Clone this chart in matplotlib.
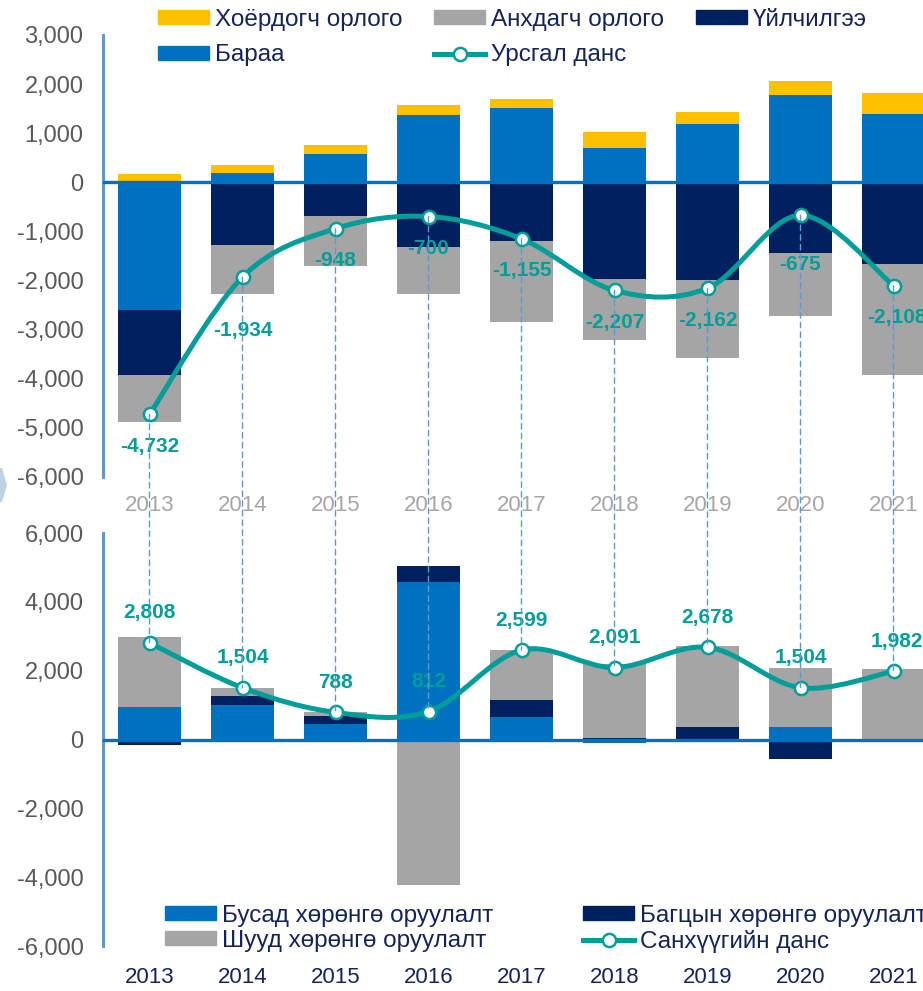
import matplotlib
matplotlib.use("Agg")
import matplotlib.pyplot as plt
import numpy as np
from matplotlib.patches import Patch, PathPatch, Polygon, ConnectionPatch
from matplotlib.lines import Line2D
from matplotlib.path import Path

plt.rcParams['font.family'] = ['Liberation Sans', 'DejaVu Sans']

years = ['2013', '2014', '2015', '2016', '2017', '2018', '2019', '2020', '2021']

# Top chart: current account components
goods = [-2610, 190, 578, 1361, 1517, 701, 1177, 1776, 1388]          # Бараа
services = [-1315, -1280, -694, -1327, -1204, -1980, -1986, -1442, -1673]  # Үйлчилгээ
primary = [-967, -999, -1009, -951, -1652, -1247, -1598, -1294, -2257]  # Анхдагч орлого
secondary = [160, 155, 177, 217, 184, 319, 245, 285, 434]              # Хоёрдогч орлого
current_account = [-4732, -1934, -948, -700, -1155, -2207, -2162, -675, -2108]

# Bottom chart: financial account components
other_inv = [930, 1005, 464, 4570, 667, -99, -27, 357, -60]       # Бусад хөрөнгө оруулалт
portfolio = [-160, 270, 232, 483, 492, 40, 357, -571, 0]          # Багцын хөрөнгө оруулалт
direct = [2038, 229, 92, -4241, 1440, 2150, 2348, 1718, 2042]     # Шууд хөрөнгө оруулалт
financial_account = [2808, 1504, 788, 812, 2599, 2091, 2678, 1504, 1982]

C_YELLOW = '#ffc000'
C_GREY = '#a5a5a5'
C_NAVY = '#002060'
C_BLUE = '#0070c0'
C_TEAL = '#009e99'
C_SPINE = '#5b9bd5'
C_TXT = '#14245a'
C_TICK = '#595959'

W, H = 923, 991
fig = plt.figure(figsize=(W / 100, H / 100), dpi=100)

def px_axes(left, top, right, bottom):
    return fig.add_axes([left / W, (H - bottom) / H, (right - left) / W, (bottom - top) / H])

ax1 = px_axes(103, 35, 940, 476.5)
ax2 = px_axes(103, 533, 940, 946)

x = np.arange(len(years))
bw = 0.67

def stacked(ax, series):
    pos = np.zeros(len(x))
    neg = np.zeros(len(x))
    for vals, color in series:
        v = np.array(vals, dtype=float)
        bottom = np.where(v >= 0, pos, neg)
        ax.bar(x, v, bw, bottom=bottom, color=color, linewidth=0, zorder=2)
        pos = pos + np.where(v >= 0, v, 0)
        neg = neg + np.where(v < 0, v, 0)

stacked(ax1, [(goods, C_BLUE), (services, C_NAVY), (primary, C_GREY), (secondary, C_YELLOW)])
stacked(ax2, [(other_inv, C_BLUE), (portfolio, C_NAVY), (direct, C_GREY)])

def smooth_line(ax, xs, ys, k=1/6):
    n = len(xs)
    verts = [(xs[0], ys[0])]
    codes = [Path.MOVETO]
    for i in range(n - 1):
        p0 = i - 1 if i > 0 else i
        p3 = i + 2 if i + 2 < n else i + 1
        c1 = (xs[i] + (xs[i + 1] - xs[p0]) * k, ys[i] + (ys[i + 1] - ys[p0]) * k)
        c2 = (xs[i + 1] - (xs[p3] - xs[i]) * k, ys[i + 1] - (ys[p3] - ys[i]) * k)
        verts += [c1, c2, (xs[i + 1], ys[i + 1])]
        codes += [Path.CURVE4] * 3
    pp = PathPatch(Path(verts, codes), fill=False, edgecolor=C_TEAL, lw=3.6,
                   capstyle='round', joinstyle='round', zorder=5)
    ax.add_patch(pp)
    ax.plot(xs, ys, 'o', ls='none', mfc='white', mec=C_TEAL, ms=9.5, mew=1.8, zorder=6)

smooth_line(ax1, x.astype(float), np.array(current_account, float))
smooth_line(ax2, x.astype(float), np.array(financial_account, float))

top_off = [-32, -53, -32, -32, -32, -32, -32, -49, -32]
for i, v in enumerate(current_account):
    ax1.annotate(f"{v:,}", (i, v), xytext=(3 if i == 8 else 0, top_off[i]), textcoords='offset pixels',
                 ha='center', va='center', fontsize=15, fontweight='bold', color=C_TEAL, zorder=7)
for i, v in enumerate(financial_account):
    ax2.annotate(f"{v:,}", (i, v), xytext=(3 if i == 8 else 0, 30), textcoords='offset pixels',
                 ha='center', va='center', fontsize=15, fontweight='bold', color=C_TEAL, zorder=7)

for ax, ylim, ticks, xcol, pad in [
        (ax1, (-6000, 3000), np.arange(-6000, 3001, 1000), '#a6a6a6', 13),
        (ax2, (-6000, 6000), np.arange(-6000, 6001, 2000), C_TXT, 15)]:
    ax.set_xlim(-0.5, 8.5)
    ax.set_ylim(*ylim)
    ax.set_yticks(ticks)
    ax.set_yticklabels([f"{t:,}" for t in ticks])
    ax.set_xticks(x)
    ax.set_xticklabels(years)
    ax.tick_params(axis='y', length=0, pad=14, labelsize=17, labelcolor=C_TICK)
    ax.tick_params(axis='x', length=0, pad=pad, labelsize=16, labelcolor=xcol)
    for s in ['top', 'right', 'bottom']:
        ax.spines[s].set_visible(False)
    ax.spines['left'].set_color(C_SPINE)
    ax.spines['left'].set_linewidth(2.2)
    ax.axhline(0, color=C_BLUE, lw=2.4, zorder=3)
    ax.set_facecolor('none')

# dashed connectors between the two accounts
for i in range(len(years)):
    cp = ConnectionPatch(xyA=(i, current_account[i]), coordsA=ax1.transData,
                         xyB=(i, financial_account[i]), coordsB=ax2.transData,
                         color=C_SPINE, lw=1.0, ls=(0, (4, 3)), zorder=1)
    fig.add_artist(cp)

line_handle = lambda: Line2D([], [], color=C_TEAL, lw=3.6, marker='o', mfc='white',
                             mec=C_TEAL, ms=9.5, mew=1.8)

leg1 = fig.legend(
    [Patch(color=C_YELLOW), Patch(color=C_BLUE), Patch(color=C_GREY), line_handle(), Patch(color=C_NAVY)],
    ['Хоёрдогч орлого', 'Бараа', 'Анхдагч орлого', 'Урсгал данс', 'Үйлчилгээ'],
    ncol=3, loc='upper left', bbox_to_anchor=(158 / W, (H - 9) / H), frameon=False,
    fontsize=17.5, handlelength=2.1, handleheight=0.5, handletextpad=0.25,
    columnspacing=1.3, labelspacing=0.55, borderpad=0, borderaxespad=0)
for t in leg1.get_texts():
    t.set_color(C_TXT)

leg2 = fig.legend(
    [Patch(color=C_BLUE), Patch(color=C_GREY), Patch(color=C_NAVY), line_handle()],
    ['Бусад хөрөнгө оруулалт', 'Шууд хөрөнгө оруулалт', 'Багцын хөрөнгө оруулалт', 'Санхүүгийн данс'],
    ncol=2, loc='upper left', bbox_to_anchor=(165 / W, (H - 905) / H), frameon=False,
    fontsize=17.5, handlelength=2.1, handleheight=0.5, handletextpad=0.25,
    columnspacing=3.7, labelspacing=0.12, borderpad=0, borderaxespad=0)
for t in leg2.get_texts():
    t.set_color(C_TXT)

# small decorative chevron at left edge
chev = [(0, 468), (2, 468), (7, 485), (2, 502), (0, 502)]
fig.patches.append(Polygon([(a / W, (H - b) / H) for a, b in chev], closed=True,
                           transform=fig.transFigure, facecolor='#bfd1e3', edgecolor='none'))

fig.savefig('out.png', dpi=100)
